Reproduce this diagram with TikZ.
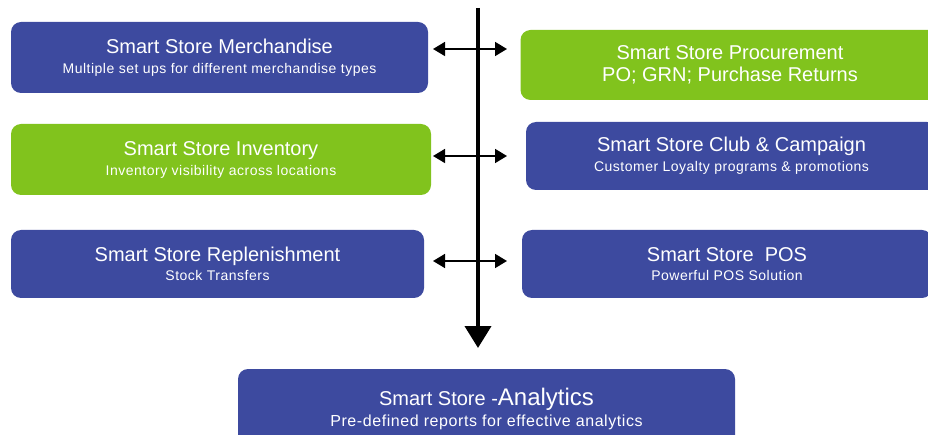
\documentclass[tikz,border=0pt]{standalone}
\usepackage{fontspec}
\setmainfont{Liberation Sans}
\newfontfamily\subfont[LetterSpace=3.6]{Liberation Sans}
\usepackage{tikz}
\usetikzlibrary{arrows.meta,positioning}
\definecolor{storeblue}{RGB}{61,74,159}
\definecolor{storegreen}{RGB}{129,195,29}
\newcommand{\boxtitle}[1]{{\fontsize{20}{20}\selectfont #1}}
\newcommand{\boxsubline}[1]{{\subfont\fontsize{14}{20}\selectfont #1}}
\tikzset{
        modbox/.style={rounded corners=10pt, text=white, align=center, inner sep=0pt,
            font=\fontsize{14}{20}\selectfont},
        bluebox/.style={modbox, fill=storeblue},
        greenbox/.style={modbox, fill=storegreen},
        spine/.style={line width=4pt, -{Triangle[length=22pt,width=26pt]}},
        link/.style={line width=1.6pt, {Triangle[length=12pt,width=14pt]}-{Triangle[length=12pt,width=14pt]}},
    }
\begin{document}
\begin{tikzpicture}[x = 1pt, y = -1pt]
                \useasboundingbox (0,0) rectangle (928,435);
                % left column
                \node[bluebox, minimum width=417pt, minimum height=71pt] (merch) at (219.5,57.5)
                    {\boxtitle{Smart Store Merchandise}\\\boxsubline{Multiple set ups for different merchandise types}};
                \node[greenbox, minimum width=420pt, minimum height=71pt] (inv) at (221,159.5)
                    {\boxtitle{Smart Store Inventory}\\\boxsubline{Inventory visibility across locations}};
                \node[bluebox, minimum width=413pt, minimum height=68pt] (repl) at (217.5,264)
                    {\boxtitle{Smart Store Replenishment}\\[-1pt]\boxsubline{Stock Transfers}};
                % right column
                \node[greenbox, minimum width=419pt, minimum height=70pt] (proc) at (730,65)
                    {\boxtitle{Smart Store Procurement}\\[2pt]\boxtitle{PO; GRN; Purchase Returns}};
                \node[bluebox, minimum width=411pt, minimum height=68pt] (club) at (731.5,156)
                    {\boxtitle{Smart Store Club \& Campaign}\\\boxsubline{Customer Loyalty programs \& promotions}};
                \node[bluebox, minimum width=410pt, minimum height=68pt] (pos) at (727,264)
                    {\boxtitle{Smart Store~~POS}\\[-1pt]\boxsubline{Powerful POS Solution}};
                % bottom
                \node[bluebox, minimum width=497pt, minimum height=80pt] (ana) at (486.5,409)
                    {\boxtitle{Smart Store -{\fontsize{24}{24}\selectfont Analytics}}\\[1pt]{\subfont\fontsize{16}{20}\selectfont Pre-defined reports for effective analytics}};
                % arrows
                \coordinate (top) at (478,8);
                \coordinate (bot) at (478,348);
                \draw[spine] (top) -- (bot);
                \coordinate (l1) at (433,49);  \coordinate (r1) at (507,49);
                \coordinate (l2) at (433,156); \coordinate (r2) at (507,156);
                \coordinate (l3) at (433,261); \coordinate (r3) at (507,261);
                \foreach \i in {1,2,3}
                    \draw[link] (l\i) -- (r\i);
            \end{tikzpicture}
\end{document}
